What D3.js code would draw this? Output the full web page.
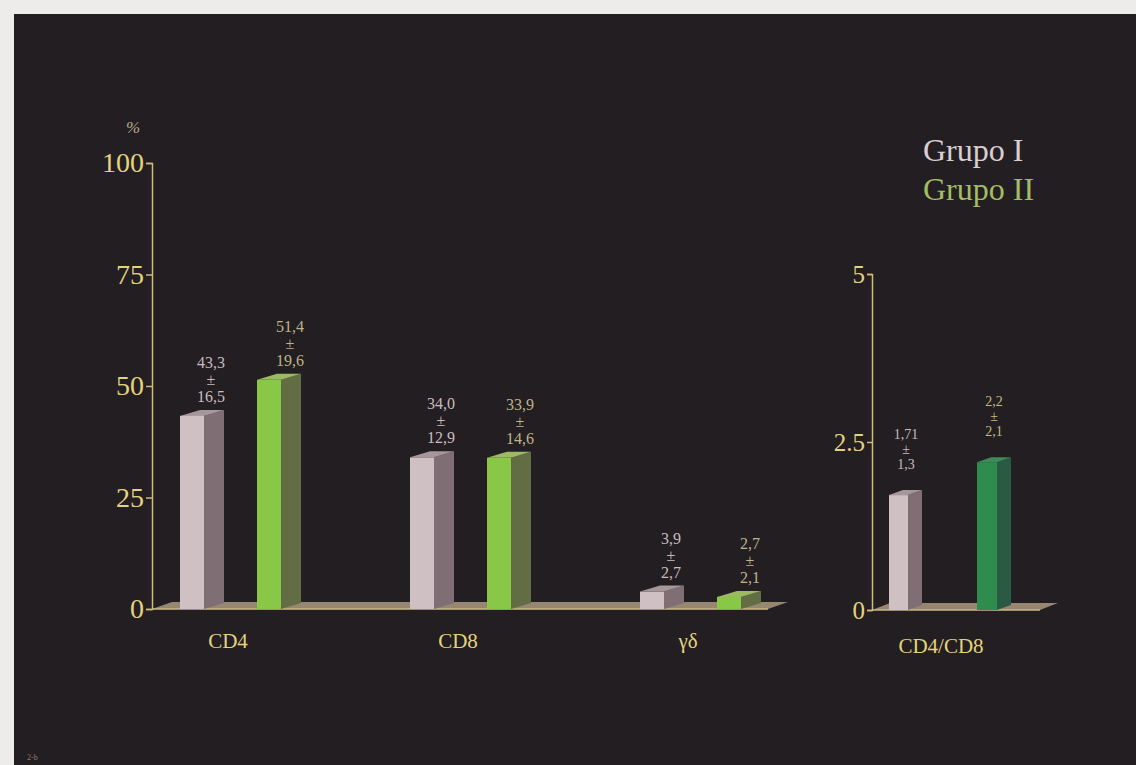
<!DOCTYPE html>
<html>
<head>
<meta charset="utf-8">
<script src="https://cdn.jsdelivr.net/npm/d3@7"></script>
<style>
  body { margin: 0; background: #eeeceb; }
  svg { display: block; }
  text { font-family: "Liberation Serif", "DejaVu Serif", serif; }
</style>
</head>
<body>
<svg width="1136" height="765"></svg>
<script>
// data
const categories = ['CD4', 'CD8', 'γδ'];
const groups = ['Grupo I', 'Grupo II'];
const grupoI = [43.3, 34.0, 3.9];
const grupoII = [51.4, 33.9, 2.7];
const grupoILabels = [['43,3', '±', '16,5'], ['34,0', '±', '12,9'], ['3,9', '±', '2,7']];
const grupoIILabels = [['51,4', '±', '19,6'], ['33,9', '±', '14,6'], ['2,7', '±', '2,1']];
const leftTicks = [0, 25, 50, 75, 100];

const ratioCategory = 'CD4/CD8';
const ratioValues = [1.71, 2.2];
const ratioLabels = [['1,71', '±', '1,3'], ['2,2', '±', '2,1']];
const rightTicks = [0, 2.5, 5];

const svg = d3.select('svg');
const width = +svg.attr('width');
const height = +svg.attr('height');

// dark slide panel
svg.append('rect')
    .attr('x', 14).attr('y', 14)
    .attr('width', width - 14).attr('height', height - 14)
    .attr('fill', '#231e22');

const axisColor = '#cdbd78';
const tickText = '#e3d37e';

const colors = {
    pink: { front: '#cfc0c3', side: '#7f6f74', top: '#a6979a', text: '#c9bcbf' },
    green: { front: '#89c847', side: '#626d43', top: '#9cba62', text: '#bdb488' },
    dkgreen: { front: '#2f8c4e', side: '#2a5a44', top: '#3f8a58', text: '#c2bb7c' }
};

// draws one pseudo-3d bar: front face, side and top
function bar3d(g, x0, w, y0, y1, dx, dy, c) {
    g.append('polygon')
        .attr('points', [[x0 + w, y1], [x0 + w + dx, y1 + dy], [x0 + w + dx, y0 + dy], [x0 + w, y0]].join(' '))
        .attr('fill', c.side);
    g.append('polygon')
        .attr('points', [[x0, y1], [x0 + w, y1], [x0 + w + dx, y1 + dy], [x0 + dx, y1 + dy]].join(' '))
        .attr('fill', c.top);
    g.append('rect')
        .attr('x', x0).attr('y', y1)
        .attr('width', w).attr('height', y0 - y1)
        .attr('fill', c.front);
}

function floor(g, x0, x1, y0, dx, dy) {
    g.append('polygon')
        .attr('points', [[x0, y0], [x1, y0], [x1 + dx, y0 + dy], [x0 + dx, y0 + dy]].join(' '))
        .attr('fill', '#978670');
    g.append('line')
        .attr('x1', x0).attr('x2', x1).attr('y1', y0).attr('y2', y0)
        .attr('stroke', '#c9b98a').attr('stroke-width', 1.5);
}

function valueLabel(g, x, yTop, lines, color, size, step) {
    const t = g.append('text')
        .attr('text-anchor', 'middle')
        .attr('fill', color)
        .attr('font-size', size);
    lines.forEach((s, i) => {
        t.append('tspan')
            .attr('x', x)
            .attr('y', yTop - 14 - (lines.length - 1 - i) * step)
            .text(s);
    });
}

function styleAxis(g, size) {
    g.select('.domain').attr('stroke', axisColor).attr('stroke-width', 1.5);
    g.selectAll('.tick line').attr('stroke', axisColor).attr('stroke-width', 1.5);
    g.selectAll('.tick text')
        .attr('fill', tickText)
        .attr('font-size', size)
        .attr('font-family', '"Liberation Serif", serif');
}

// ---- left chart ----
const y = d3.scaleLinear().domain([0, 100]).range([609, 163]);
const x = d3.scaleBand().domain(categories).range([167, 857]);
const xg = d3.scalePoint().domain(groups).range([13, 90]);
const barW = 24, depthX = 20, depthY = -6;

const left = svg.append('g');
floor(left, 152, 768, 609, 20, -7);

const leftAxis = left.append('g')
    .attr('transform', 'translate(152,0)')
    .call(d3.axisLeft(y).tickValues(leftTicks).tickSize(6).tickPadding(2).tickSizeOuter(6));
styleAxis(leftAxis, 28);

categories.forEach((cat, i) => {
    const xa = x(cat) + xg('Grupo I');
    const xb = x(cat) + xg('Grupo II');
    bar3d(left, xa, barW, y(0), y(grupoI[i]), depthX, depthY, colors.pink);
    bar3d(left, xb, barW, y(0), y(grupoII[i]), depthX, depthY, colors.green);
    valueLabel(left, xa + 31, y(grupoI[i]), grupoILabels[i], colors.pink.text, 16, 17);
    valueLabel(left, xb + 33, y(grupoII[i]), grupoIILabels[i], colors.green.text, 16, 17);
    left.append('text')
        .attr('x', x(cat) + 61)
        .attr('y', 648)
        .attr('text-anchor', 'middle')
        .attr('fill', tickText)
        .attr('font-size', 21)
        .text(cat);
});

left.append('text')
    .attr('x', 133).attr('y', 133)
    .attr('text-anchor', 'middle')
    .attr('fill', '#b8a890')
    .attr('font-size', 17)
    .attr('font-style', 'italic')
    .text('%');

// ---- right chart ----
const yR = d3.scaleLinear().domain([0, 5]).range([610, 274]);
const xR = d3.scalePoint().domain(groups).range([889, 977]);

const right = svg.append('g');
floor(right, 872, 1040, 610, 18, -7);

const rightAxis = right.append('g')
    .attr('transform', 'translate(872,0)')
    .call(d3.axisLeft(yR).tickValues(rightTicks).tickFormat(d => d).tickSize(5).tickPadding(2).tickSizeOuter(5));
styleAxis(rightAxis, 25);

const ratioColors = [colors.pink, colors.dkgreen];
const ratioW = [19, 20];
groups.forEach((gname, i) => {
    const xa = xR(gname);
    bar3d(right, xa, ratioW[i], yR(0), yR(ratioValues[i]), 14, -5, ratioColors[i]);
    valueLabel(right, xa + 17, yR(ratioValues[i]) - 12, ratioLabels[i], ratioColors[i].text, 14, 15);
});

right.append('text')
    .attr('x', 941).attr('y', 653)
    .attr('text-anchor', 'middle')
    .attr('fill', tickText)
    .attr('font-size', 21)
    .text(ratioCategory);

// ---- legend ----
const legendColors = ['#d9ced1', '#a3bd62'];
groups.forEach((gname, i) => {
    svg.append('text')
        .attr('x', 923)
        .attr('y', 161 + i * 39)
        .attr('fill', legendColors[i])
        .attr('font-size', 32)
        .text(gname);
});

svg.append('text')
    .attr('x', 27).attr('y', 760)
    .attr('fill', '#8f7f70')
    .attr('font-size', 8)
    .text('2-b');
</script>
</body>
</html>
